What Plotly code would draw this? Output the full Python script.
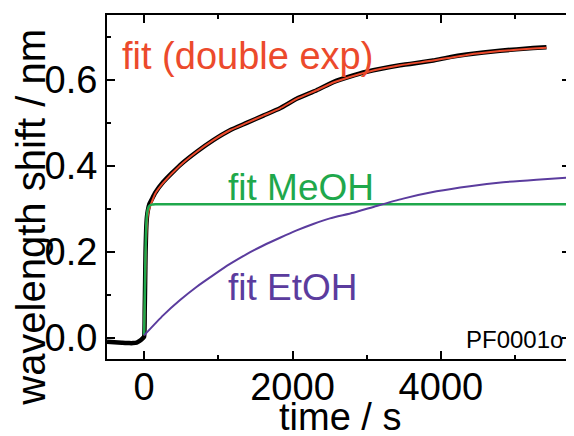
import plotly.graph_objects as go

# ---- data ----
t_data = [-500, -400, -300, -200, -150, -100, -60, -30, 0, 8, 14, 20, 28, 38, 50, 70, 100, 148,
          260, 485, 710, 933, 1158, 1383, 1607, 1832, 2056, 2326, 2550, 2774, 2999, 3448, 3896,
          4121, 4346, 4795, 5243, 5423]
v_data = [-0.010, -0.011, -0.012, -0.013, -0.013, -0.012, -0.008, -0.004, 0.002, 0.06, 0.13, 0.20,
          0.25, 0.28, 0.295, 0.31, 0.32, 0.336, 0.362, 0.401, 0.432, 0.459, 0.482, 0.499, 0.516,
          0.533, 0.555, 0.575, 0.594, 0.607, 0.618, 0.633, 0.644, 0.652, 0.658, 0.667, 0.673, 0.675]

t_fit = [0, 10, 20, 30, 45, 70, 110, 148, 260, 485, 710, 933, 1158, 1383, 1607, 1832, 2056, 2326,
         2550, 2774, 2999, 3448, 3896, 4346, 4795, 5243, 5423]
v_fit = [0.005, 0.09, 0.18, 0.24, 0.28, 0.30, 0.318, 0.334, 0.360, 0.400, 0.432, 0.459, 0.482,
         0.499, 0.516, 0.533, 0.555, 0.575, 0.593, 0.606, 0.617, 0.633, 0.644, 0.657, 0.666, 0.672,
         0.674]

t_meoh = [0, 8, 15, 25, 35, 50, 70, 100, 150, 5740]
v_meoh = [0.005, 0.08, 0.16, 0.24, 0.28, 0.298, 0.306, 0.309, 0.310, 0.310]

t_etoh = [0, 260, 485, 710, 933, 1158, 1383, 1607, 1832, 2056, 2280, 2505, 2819, 3134, 3492, 3942,
          4391, 4839, 5289, 5740]
v_etoh = [0.005, 0.052, 0.087, 0.118, 0.145, 0.171, 0.194, 0.214, 0.232, 0.249, 0.264, 0.277,
          0.290, 0.306, 0.323, 0.340, 0.352, 0.361, 0.367, 0.372]

x_ticks = [0, 2000, 4000]
y_ticks = [0.0, 0.2, 0.4, 0.6]
y_tick_labels = ["0.0", "0.2", "0.4", "0.6"]

RED = "#EC4A2C"
GREEN = "#1FA84C"
PURPLE = "#5B3C9E"
FONT = "Liberation Sans, Arial, Helvetica, sans-serif"

fig = go.Figure()
fig.add_trace(go.Scatter(x=t_data, y=v_data, mode="lines", name="data",
                         line=dict(color="black", width=4.5, shape="spline", smoothing=0.4)))
fig.add_trace(go.Scatter(x=t_fit, y=v_fit, mode="lines", name="fit (double exp)",
                         line=dict(color=RED, width=2, shape="spline", smoothing=0.4)))
fig.add_trace(go.Scatter(x=t_meoh, y=v_meoh, mode="lines", name="fit MeOH",
                         line=dict(color=GREEN, width=2.5, shape="spline", smoothing=0.4)))
fig.add_trace(go.Scatter(x=t_etoh, y=v_etoh, mode="lines", name="fit EtOH",
                         line=dict(color=PURPLE, width=2, shape="spline", smoothing=0.6)))

axis_common = dict(showline=True, linecolor="black", linewidth=2, mirror="allticks",
                   ticks="inside", ticklen=8, tickwidth=1.5, tickcolor="black",
                   showgrid=False, zeroline=False, automargin=False,
                   tickfont=dict(family=FONT, size=38, color="black"))

fig.update_xaxes(range=[-500, 5740], tickvals=x_ticks, ticktext=[str(v) for v in x_ticks],
                 ticklabelstandoff=-7,
                 minor=dict(dtick=1000, tick0=0, ticks="inside", ticklen=4, tickcolor="black",
                            tickwidth=1.5),
                 **axis_common)
fig.update_yaxes(range=[-0.05, 0.75], tickvals=y_ticks, ticktext=y_tick_labels,
                 minor=dict(dtick=0.1, tick0=0.1, ticks="inside", ticklen=4, tickcolor="black",
                            tickwidth=1.5),
                 **axis_common)

# axis titles
fig.add_annotation(x=-0.166, y=0.411, xref="paper", yref="paper", text="wavelength shift / nm",
                   textangle=-90, showarrow=False, xanchor="center", yanchor="middle",
                   font=dict(family=FONT, size=40, color="black"))
fig.add_annotation(x=0.503, y=-0.17, xref="paper", yref="paper", text="time / s",
                   showarrow=False, xanchor="center", yanchor="middle",
                   font=dict(family=FONT, size=38, color="black"))

# curve labels
fig.add_annotation(x=-330, y=0.654, text="fit (double exp)", showarrow=False,
                   xanchor="left", yanchor="middle", font=dict(family=FONT, size=38, color=RED))
fig.add_annotation(x=1100, y=0.350, text="fit MeOH", showarrow=False,
                   xanchor="left", yanchor="middle", font=dict(family=FONT, size=37, color=GREEN))
fig.add_annotation(x=1100, y=0.117, text="fit EtOH", showarrow=False,
                   xanchor="left", yanchor="middle", font=dict(family=FONT, size=37, color=PURPLE))
fig.add_annotation(x=5670, y=-0.005, text="PF0001o", showarrow=False,
                   xanchor="right", yanchor="middle", font=dict(family=FONT, size=24, color="black"))

# the page body adds an 8 px offset, so the figure is 8 px smaller and margins shifted
fig.update_layout(width=566, height=428, margin=dict(l=99, r=4, t=7, b=77, autoexpand=False),
                  paper_bgcolor="white", plot_bgcolor="white", showlegend=False)

fig.write_html("out.html")
